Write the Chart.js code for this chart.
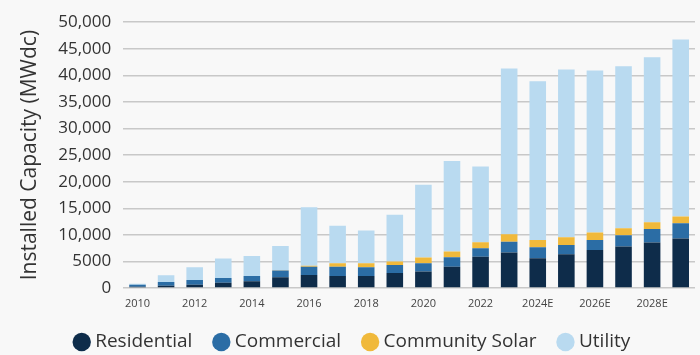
<!DOCTYPE html>
<html>
<head>
<meta charset="utf-8">
<script src="https://cdn.jsdelivr.net/npm/chart.js@4.4.1/dist/chart.umd.min.js"></script>
<style>
  html, body { margin: 0; padding: 0; background: #f8f8f8; }
  #wrap { width: 700px; height: 355px; position: relative; }
</style>
</head>
<body>
<div id="wrap"><canvas id="c" width="700" height="355"></canvas></div>
<script>
const categories = ["2010","2011","2012","2013","2014","2015","2016","2017","2018","2019","2020","2021","2022","2023","2024E","2025E","2026E","2027E","2028E","2029E"];
const residential    = [250, 400, 600, 1000, 1260, 2000, 2450, 2250, 2260, 2800, 3100, 4000, 5900, 6700, 5600, 6350, 7160, 7800, 8550, 9300];
const commercial     = [350, 730, 900, 900, 1000, 1270, 1570, 1770, 1640, 1550, 1550, 1780, 1580, 2000, 2070, 1750, 1890, 2130, 2570, 2900];
const communitySolar = [0, 0, 0, 0, 0, 50, 180, 630, 750, 630, 1070, 1070, 1130, 1400, 1380, 1450, 1380, 1320, 1260, 1250];
const utility        = [200, 1260, 2400, 3630, 3770, 4600, 11000, 7050, 6150, 8780, 13690, 17020, 14260, 31170, 29840, 31540, 30470, 30460, 31030, 33290];
const yTicks = [0, 5000, 10000, 15000, 20000, 25000, 30000, 35000, 40000, 45000, 50000];

const font = "'Open Sans', 'DejaVu Sans', sans-serif";
const mk = (label, data, color) => ({ label, data, backgroundColor: color, borderWidth: 0, barPercentage: 0.58, categoryPercentage: 1.0 });

const legendLift = {
  id: 'legendLift',
  afterLayout(chart) {
    const l = chart.legend;
    if (l) { l.top -= 3.5; l.bottom -= 3.5; }
  }
};

new Chart(document.getElementById('c'), {
  type: 'bar',
  data: {
    labels: categories,
    datasets: [
      mk('Residential', residential, '#0e2c4a'),
      mk('Commercial', commercial, '#2b6da5'),
      mk('Community Solar', communitySolar, '#f0b93b'),
      mk('Utility', utility, '#b9daf0')
    ]
  },
  plugins: [legendLift],
  options: {
    responsive: false,
    animation: false,
    devicePixelRatio: 1,
    layout: { padding: { top: 18, right: 5, left: 13, bottom: -10 } },
    plugins: {
      legend: {
        position: 'bottom',
        labels: {
          usePointStyle: true,
          pointStyle: 'circle',
          boxWidth: 8,
          boxHeight: 13,
          padding: 25,
          color: '#333',
          font: { family: font, size: 19 }
        }
      },
      tooltip: { enabled: false }
    },
    scales: {
      x: {
        stacked: true,
        grid: { display: false, drawTicks: false },
        border: { display: false },
        afterFit: scale => { scale.height = 23; },
        ticks: {
          autoSkip: false,
          maxRotation: 0,
          color: '#444',
          font: { family: font, size: 11 },
          padding: 9,
          callback: function(v, i) { return i % 2 === 0 ? categories[i] : ''; }
        }
      },
      y: {
        stacked: true,
        min: 0,
        max: 50000,
        afterBuildTicks: axis => { axis.ticks = yTicks.map(v => ({ value: v })); },
        grid: { color: '#c8c8c8', lineWidth: 1.5, drawTicks: false },
        border: { display: false },
        ticks: {
          color: '#333',
          padding: 12,
          font: { family: font, size: 17 },
          callback: v => v >= 10000 ? v.toLocaleString('en-US') : String(v)
        },
        title: {
          display: true,
          text: 'Installed Capacity (MWdc)',
          color: '#333',
          font: { family: font, size: 21 },
          padding: { top: 4, bottom: 4 }
        }
      }
    }
  }
});
</script>
</body>
</html>
